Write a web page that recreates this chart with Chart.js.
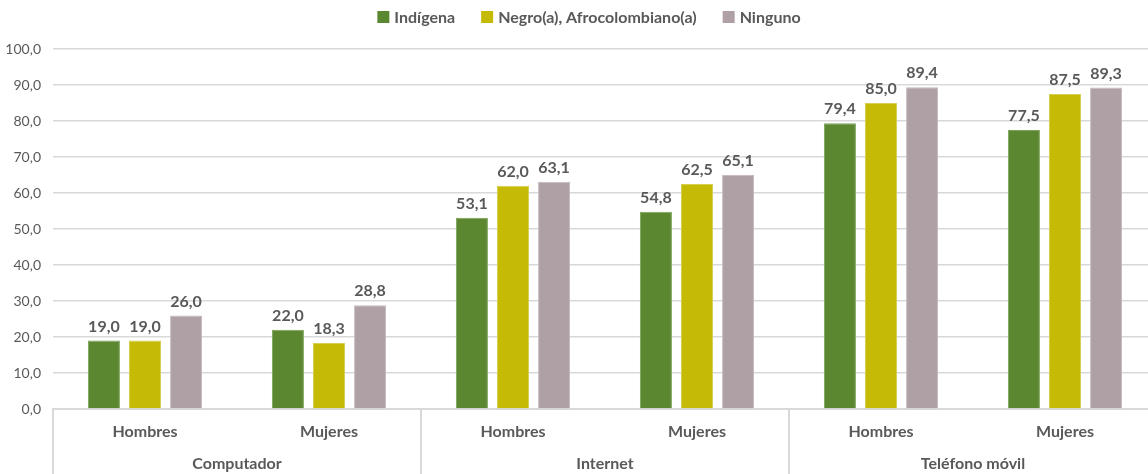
<!DOCTYPE html>
<html>
<head>
<meta charset="utf-8">
<script src="https://cdn.jsdelivr.net/npm/chart.js@4/dist/chart.umd.min.js"></script>
<style>
    html, body { margin: 0; padding: 0; background: #fff; }
    #wrap { width: 1148px; height: 474px; overflow: hidden; }
</style>
</head>
<body>
<div id="wrap"><canvas id="myChart" width="1178" height="474"></canvas></div>
<script>
// Subcategory labels and their parent groups
const labels = ['Hombres', 'Mujeres', 'Hombres', 'Mujeres', 'Hombres', 'Mujeres'];
const groups = ['Computador', 'Internet', 'Teléfono móvil'];

// Series values (%)
const indigena = [19.0, 22.0, 53.1, 54.8, 79.4, 77.5];
const negro = [19.0, 18.3, 62.0, 62.5, 85.0, 87.5];
const ninguno = [26.0, 28.8, 63.1, 65.1, 89.4, 89.3];

const yTicks = [0, 10, 20, 30, 40, 50, 60, 70, 80, 90, 100];

const textColor = '#595959';
const gridColor = '#d9d9d9';
const fontFamily = 'Lato, "Open Sans", sans-serif';
const fmt = v => v.toFixed(1).replace('.', ',');

// Value labels above the bars
const valueLabels = {
    id: 'valueLabels',
    afterDatasetsDraw(chart) {
        const ctx = chart.ctx;
        ctx.save();
        ctx.font = 'bold 16px ' + fontFamily;
        ctx.fillStyle = textColor;
        ctx.textAlign = 'center';
        ctx.textBaseline = 'bottom';
        chart.data.datasets.forEach((ds, i) => {
            chart.getDatasetMeta(i).data.forEach((bar, j) => {
                ctx.fillText(fmt(ds.data[j]), bar.x, bar.y - 6);
            });
        });
        ctx.restore();
    }
};

// Legend drawn by hand so it sits like the original (compact, high up)
const topLegend = {
    id: 'topLegend',
    afterDraw(chart) {
        const ctx = chart.ctx;
        ctx.save();
        ctx.font = 'bold 16px ' + fontFamily;
        ctx.textBaseline = 'middle';
        const box = 12, gap = 5, spacing = 26;
        const items = chart.data.datasets.map(ds => ({
            label: ds.label, color: ds.backgroundColor, w: ctx.measureText(ds.label).width
        }));
        const total = items.reduce((s, it) => s + box + gap + it.w, 0) + spacing * (items.length - 1);
        let x = chart.width / 2 - total / 2;
        const y = 17;
        items.forEach(it => {
            ctx.fillStyle = it.color;
            ctx.fillRect(x, y - box / 2, box, box);
            ctx.fillStyle = textColor;
            ctx.fillText(it.label, x + box + gap, y + 1);
            x += box + gap + it.w + spacing;
        });
        ctx.restore();
    }
};

// Second axis level: separators and group names
const groupAxis = {
    id: 'groupAxis',
    afterDraw(chart) {
        const ctx = chart.ctx;
        const x = chart.scales.x;
        const area = chart.chartArea;
        ctx.save();
        ctx.strokeStyle = gridColor;
        ctx.lineWidth = 2;
        const seps = [area.left];
        for (let g = 1; g < groups.length; g++) {
            seps.push((x.getPixelForValue(g * 2 - 1) + x.getPixelForValue(g * 2)) / 2);
        }
        seps.forEach(sx => {
            ctx.beginPath();
            ctx.moveTo(sx, area.bottom);
            ctx.lineTo(sx, chart.height);
            ctx.stroke();
        });
        ctx.font = 'bold 16px ' + fontFamily;
        ctx.fillStyle = textColor;
        ctx.textAlign = 'center';
        ctx.textBaseline = 'middle';
        groups.forEach((g, i) => {
            const cx = (x.getPixelForValue(i * 2) + x.getPixelForValue(i * 2 + 1)) / 2;
            ctx.fillText(g, cx, 464);
        });
        ctx.restore();
    }
};

new Chart('myChart', {
    type: 'bar',
    data: {
        labels: labels,
        datasets: [
            { label: 'Indígena', data: indigena, backgroundColor: '#5b8731', borderColor: '#7da35a', borderWidth: 1 },
            { label: 'Negro(a), Afrocolombiano(a)', data: negro, backgroundColor: '#c5bb06', borderColor: '#d6cf52', borderWidth: 1 },
            { label: 'Ninguno', data: ninguno, backgroundColor: '#afa0a6', borderColor: '#c4b9bd', borderWidth: 1 }
        ]
    },
    options: {
        responsive: false,
        animation: false,
        devicePixelRatio: 1,
        layout: { padding: { top: 49, right: 21, left: 0, bottom: 0 } },
        datasets: {
            bar: { categoryPercentage: 0.67, barPercentage: 0.78 }
        },
        plugins: {
            legend: { display: false },
            tooltip: { enabled: false }
        },
        scales: {
            x: {
                grid: { display: false },
                border: { color: gridColor, width: 2 },
                ticks: {
                    color: textColor,
                    padding: 5,
                    font: { family: fontFamily, size: 16, weight: 'bold' }
                },
                afterFit(scale) { scale.height = 65; }
            },
            y: {
                min: 0,
                max: 100,
                afterBuildTicks(scale) { scale.ticks = yTicks.map(v => ({ value: v })); },
                grid: { color: gridColor, lineWidth: 1.5, drawTicks: false },
                border: { display: false },
                ticks: {
                    color: textColor,
                    padding: 12,
                    font: { family: fontFamily, size: 14 },
                    callback: v => fmt(v)
                },
                afterFit(scale) { scale.width = 53; }
            }
        }
    },
    plugins: [valueLabels, topLegend, groupAxis]
});
</script>
</body>
</html>
